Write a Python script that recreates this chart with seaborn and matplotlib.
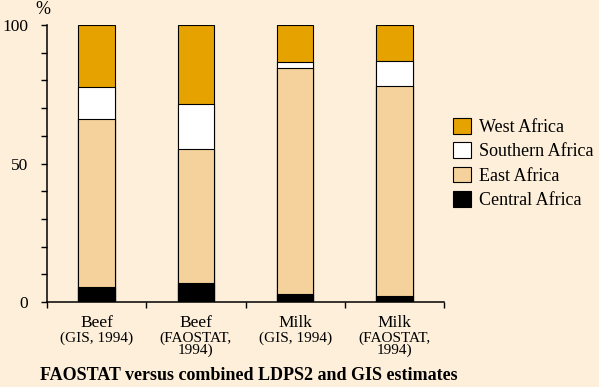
import pandas as pd
import seaborn as sns
import matplotlib.pyplot as plt
from matplotlib.ticker import MultipleLocator

# share of production by region (%)
products = ["Beef", "Beef", "Milk", "Milk"]
sources = ["(GIS, 1994)", "(FAOSTAT,\n1994)", "(GIS, 1994)", "(FAOSTAT,\n1994)"]
keys = ["beef_gis", "beef_fao", "milk_gis", "milk_fao"]
central = [5.5, 6.9, 2.8, 2.2]
east = [60.5, 48.2, 81.6, 75.9]
southern = [11.5, 16.3, 2.1, 9.0]
west = [22.5, 28.6, 13.5, 12.9]

df = pd.DataFrame({"key": keys, "Central Africa": central, "East Africa": east,
                   "Southern Africa": southern, "West Africa": west})

# cumulative heights so that overlapping bars look stacked
df["c1"] = df["Central Africa"]
df["c2"] = df["c1"] + df["East Africa"]
df["c3"] = df["c2"] + df["Southern Africa"]
df["c4"] = df["c3"] + df["West Africa"]

bg = "#fdefd9"
plt.rcParams["font.family"] = ["Liberation Serif", "DejaVu Serif"]

fig = plt.figure(figsize=(5.99, 3.87), dpi=100, facecolor=bg)
ax = fig.add_axes([47 / 599, 1 - 302 / 387, 397 / 599, 277 / 387])
ax.set_facecolor(bg)

layers = [("c4", "West Africa", "#e6a300"),
          ("c3", "Southern Africa", "#ffffff"),
          ("c2", "East Africa", "#f5d29b"),
          ("c1", "Central Africa", "#000000")]
for col, name, colour in layers:
    sns.barplot(data=df, x="key", y=col, order=keys, color=colour, width=0.37,
                edgecolor="black", linewidth=0.8, saturation=1, label=name, ax=ax)

ax.set_xlim(-0.5, 3.5)
ax.set_ylim(0, 100)
ax.set_xlabel("")
ax.set_ylabel("")
for s in ["top", "right"]:
    ax.spines[s].set_visible(False)
for s in ["left", "bottom"]:
    ax.spines[s].set_linewidth(1.1)

ax.yaxis.set_major_locator(MultipleLocator(50))
ax.yaxis.set_minor_locator(MultipleLocator(10))
ax.tick_params(axis="y", which="both", length=4.5, width=1, direction="out", pad=9,
               labelsize=12.5)
ax.set_xticks([-0.5, 0.5, 1.5, 2.5, 3.5])
ax.set_xticklabels([])
ax.tick_params(axis="x", length=4.5, width=1, direction="out")

for i, (p, s) in enumerate(zip(products, sources)):
    ax.annotate(p, xy=(i, 0), xycoords=("data", "axes fraction"), xytext=(0, -15),
                textcoords="offset points", ha="center", va="center", fontsize=12.5)
    ax.annotate(s, xy=(i, 0), xycoords=("data", "axes fraction"), xytext=(0, -21),
                textcoords="offset points", ha="center", va="top", fontsize=11,
                linespacing=0.9)

fig.text(43 / 599, 1 - 9 / 387, "%", ha="center", va="center", fontsize=13)
fig.text(40 / 599, 1 - 376 / 387, "FAOSTAT versus combined LDPS2 and GIS estimates",
         ha="left", va="center", fontsize=13, fontweight="bold")

h, l = ax.get_legend_handles_labels()
fig.legend(h, l, loc="upper left", bbox_to_anchor=(453 / 599, 1 - 118 / 387),
           frameon=False, fontsize=13, handlelength=1.0, handleheight=0.95,
           handletextpad=0.45, labelspacing=0.35, borderaxespad=0, borderpad=0)
if ax.get_legend():
    ax.get_legend().remove()

fig.savefig("out.png", dpi=100, facecolor=bg)
